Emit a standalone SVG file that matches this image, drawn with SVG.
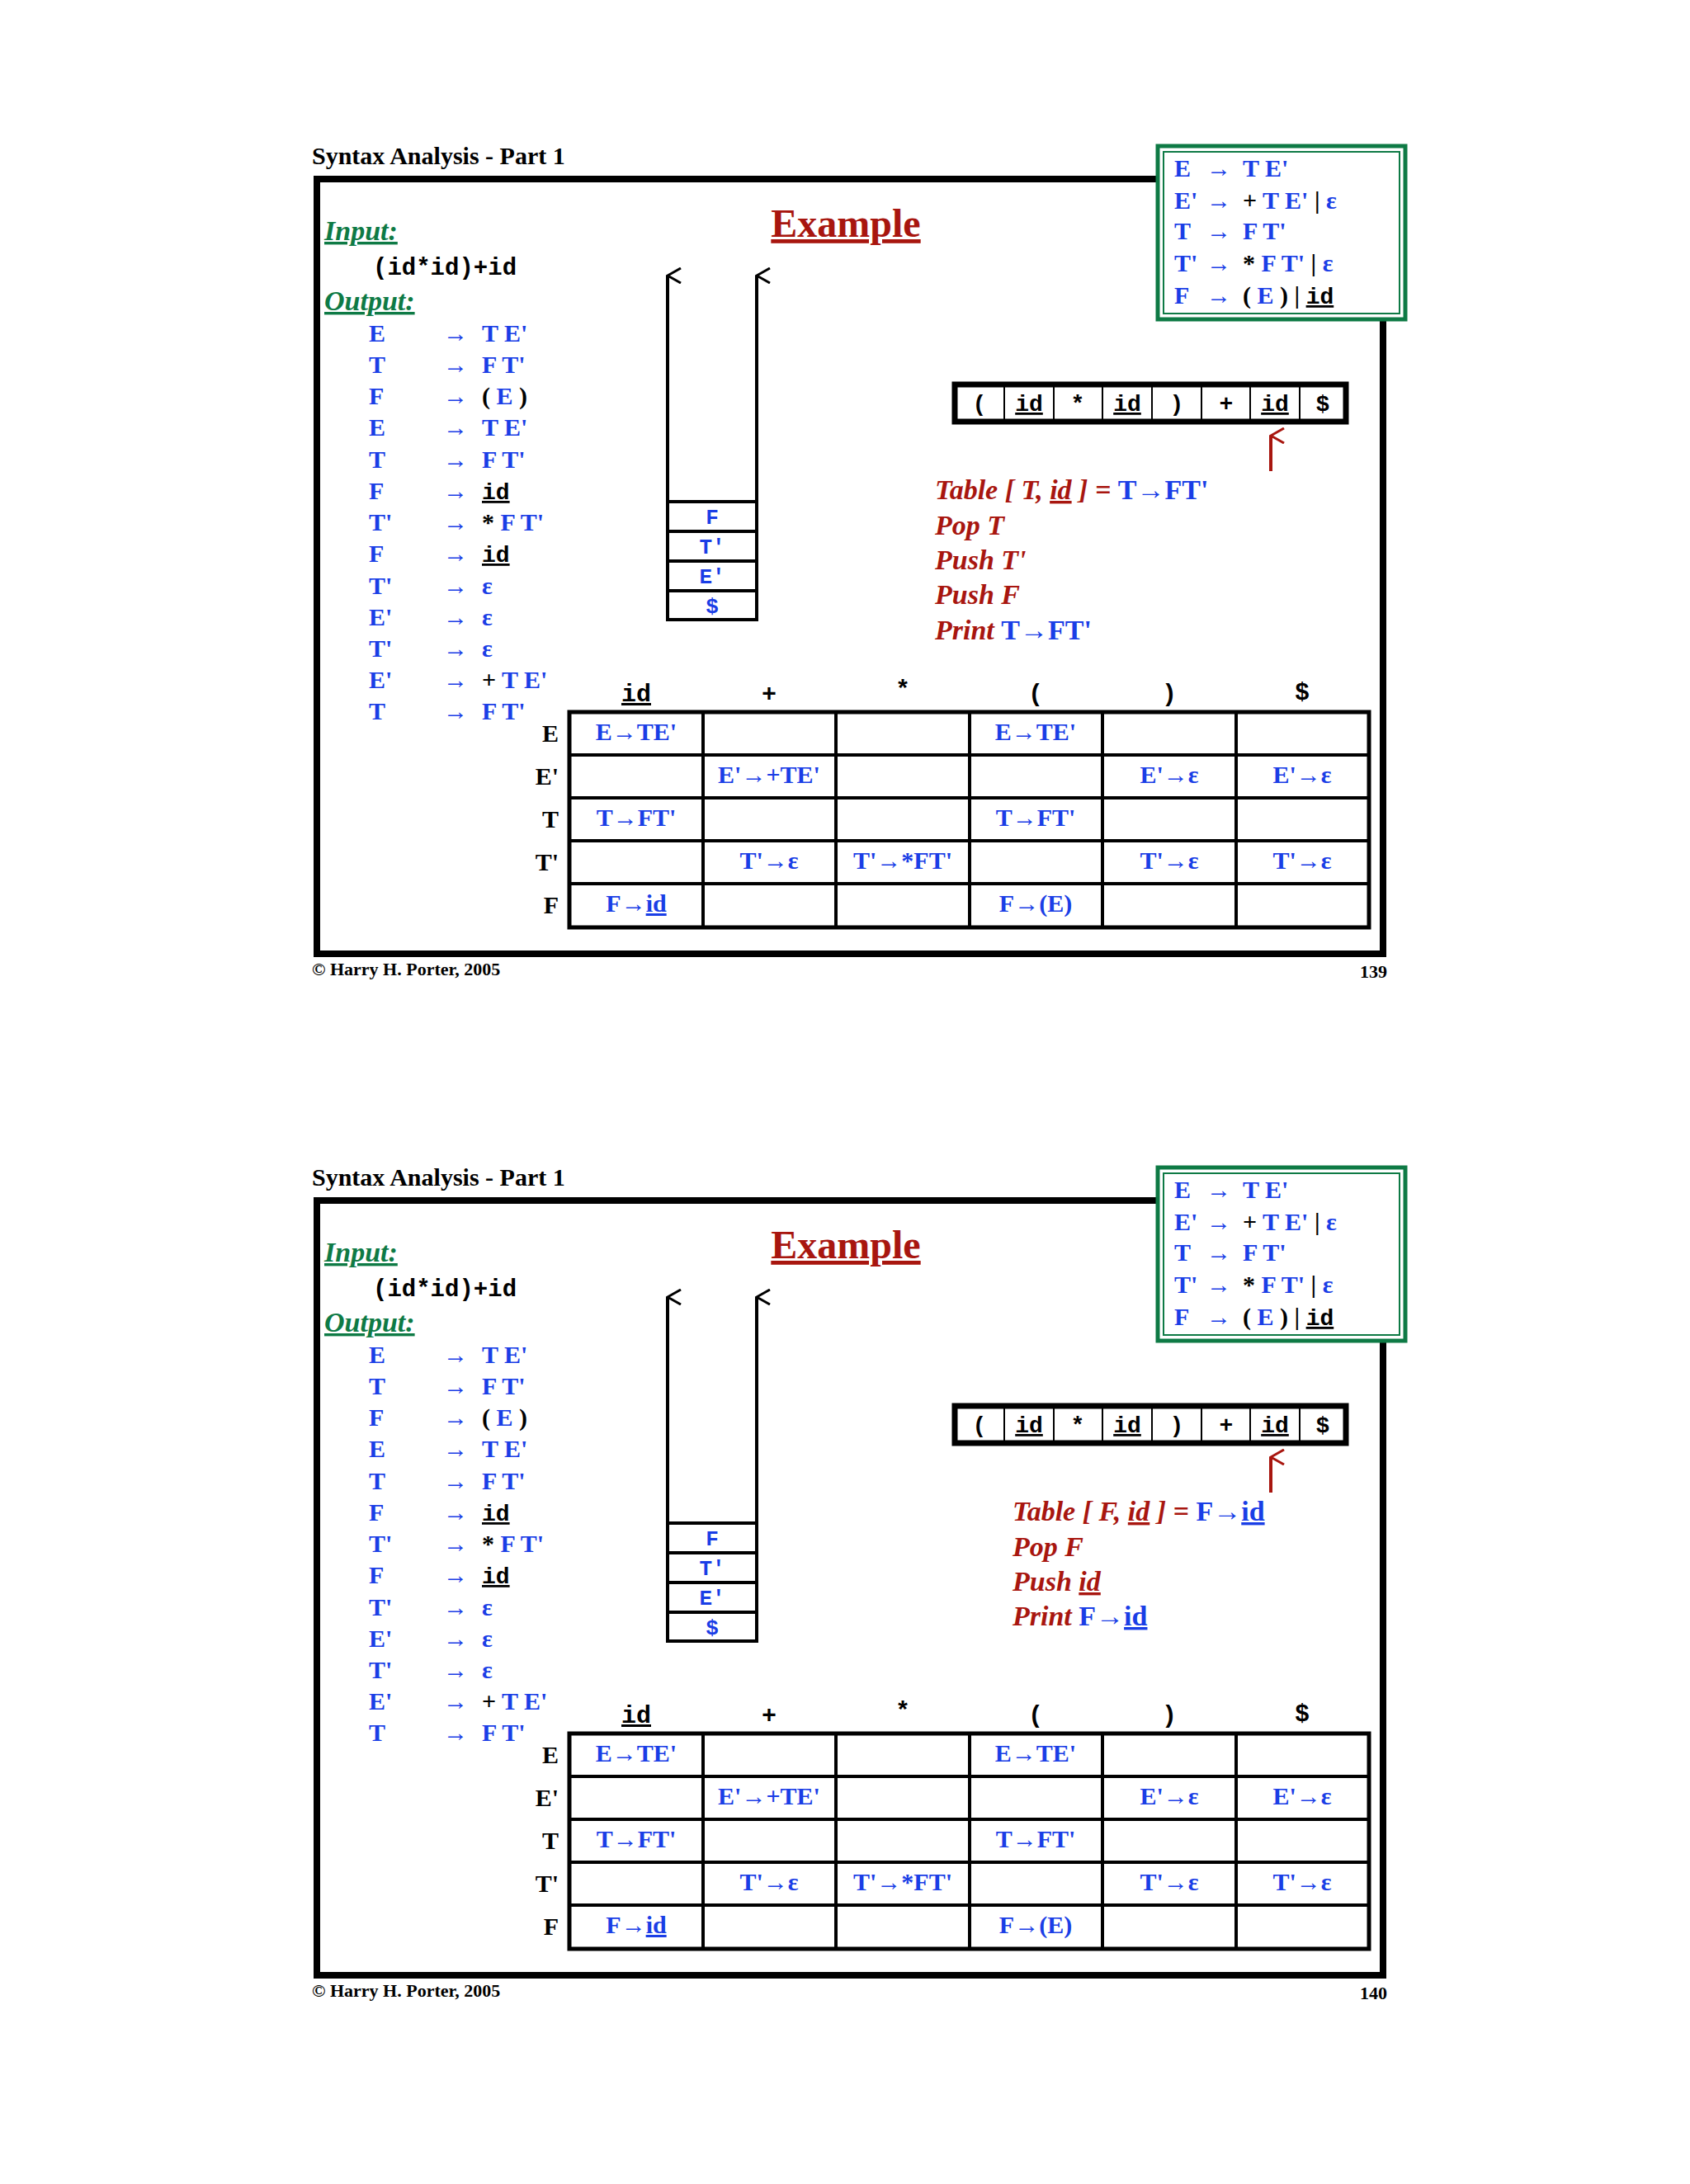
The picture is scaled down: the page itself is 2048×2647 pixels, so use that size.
<svg xmlns="http://www.w3.org/2000/svg" width="2048" height="2647" viewBox="0 0 2048 2647">
<defs>
<style>
.t{font-family:"Liberation Serif",serif;font-weight:bold}
.m{font-family:"Liberation Mono",monospace;font-weight:bold}
.b{fill:#1a3ee6}
.k{fill:#000}
.r{fill:#a8160f;font-style:italic}
.g{fill:#0e7a45;font-style:italic;text-decoration:underline}
.u{text-decoration:underline}
.ln{stroke:#000;fill:none}
</style>
<marker id="ah" viewBox="0 0 20 20" refX="10" refY="2" markerWidth="20" markerHeight="20" markerUnits="userSpaceOnUse" orient="auto-start-reverse">
<path d="M1,18 L10,2 L19,18" fill="none" stroke="#000" stroke-width="3"/>
</marker>
<marker id="ahr" viewBox="0 0 20 20" refX="10" refY="2" markerWidth="20" markerHeight="20" markerUnits="userSpaceOnUse" orient="auto-start-reverse">
<path d="M1,18 L10,2 L19,18" fill="none" stroke="#a8160f" stroke-width="3"/>
</marker>
<g id="base">
<text x="378" y="199" class="t k" font-size="30">Syntax Analysis - Part 1</text>
<rect x="384" y="217" width="1292" height="939" class="ln" stroke-width="8"/>
<g id="grammar">
<rect x="1403" y="177" width="300" height="210" fill="#fff" stroke="#0e7a45" stroke-width="5"/>
<rect x="1410" y="184" width="286" height="196" fill="none" stroke="#0e7a45" stroke-width="2"/>
<g class="t b" font-size="30">
<text x="1423" y="214">E<tspan x="1462">→</tspan><tspan x="1506">T E'</tspan></text>
<text x="1423" y="253">E'<tspan x="1462">→</tspan><tspan x="1506" class="k">+</tspan> T E' <tspan class="k">|</tspan> ε</text>
<text x="1423" y="290">T<tspan x="1462">→</tspan><tspan x="1506">F T'</tspan></text>
<text x="1423" y="329">T'<tspan x="1462">→</tspan><tspan x="1506" class="k">*</tspan> F T' <tspan class="k">|</tspan> ε</text>
<text x="1423" y="368">F<tspan x="1462">→</tspan><tspan x="1506" class="k">(</tspan> E <tspan class="k">)</tspan> <tspan class="k">|</tspan> <tspan class="m k u" font-size="28">id</tspan></text>
</g>
</g>
<text x="1025" y="287" text-anchor="middle" class="t" fill="#a8160f" font-size="48" text-decoration="underline">Example</text>
<text x="393" y="291" class="t g" font-size="34">Input:</text>
<text x="452" y="333" class="m k" font-size="29">(id*id)+id</text>
<text x="393" y="376" class="t g" font-size="34">Output:</text>
<g id="output" class="t b" font-size="30">
<g>
<text x="447" y="414">E</text><text x="447" y="452">T</text><text x="447" y="490">F</text><text x="447" y="528">E</text><text x="447" y="567">T</text><text x="447" y="605">F</text><text x="447" y="643">T'</text><text x="447" y="681">F</text><text x="447" y="720">T'</text><text x="447" y="758">E'</text><text x="447" y="796">T'</text><text x="447" y="834">E'</text><text x="447" y="872">T</text>
</g>
<g>
<text x="537" y="414">→</text><text x="537" y="452">→</text><text x="537" y="490">→</text><text x="537" y="528">→</text><text x="537" y="567">→</text><text x="537" y="605">→</text><text x="537" y="643">→</text><text x="537" y="681">→</text><text x="537" y="720">→</text><text x="537" y="758">→</text><text x="537" y="796">→</text><text x="537" y="834">→</text><text x="537" y="872">→</text>
</g>
<text x="584" y="414">T E'</text>
<text x="584" y="452">F T'</text>
<text x="584" y="490"><tspan class="k">(</tspan> E <tspan class="k">)</tspan></text>
<text x="584" y="528">T E'</text>
<text x="584" y="567">F T'</text>
<text x="584" y="605" class="m k u" font-size="28">id</text>
<text x="584" y="643"><tspan class="k">*</tspan> F T'</text>
<text x="584" y="681" class="m k u" font-size="28">id</text>
<text x="584" y="720">ε</text>
<text x="584" y="758">ε</text>
<text x="584" y="796">ε</text>
<text x="584" y="834"><tspan class="k">+</tspan> T E'</text>
<text x="584" y="872">F T'</text>
</g>
<g id="connectors">
<line x1="809" y1="608" x2="809" y2="334" class="ln" stroke-width="4" marker-end="url(#ah)"/>
<line x1="917" y1="608" x2="917" y2="334" class="ln" stroke-width="4" marker-end="url(#ah)"/>
</g>
<g id="stack">
<rect x="809" y="608" width="108" height="143" class="ln" stroke-width="4"/>
<line x1="809" y1="644" x2="917" y2="644" class="ln" stroke-width="4"/>
<line x1="809" y1="680" x2="917" y2="680" class="ln" stroke-width="4"/>
<line x1="809" y1="716" x2="917" y2="716" class="ln" stroke-width="4"/>
<g class="m b" font-size="26" text-anchor="middle">
<text x="863" y="635">F</text><text x="863" y="671">T'</text><text x="863" y="707">E'</text><text x="863" y="743">$</text>
</g>
</g>
<g id="tape">
<rect x="1157" y="466" width="474" height="45" fill="#fff" stroke="#000" stroke-width="7"/>
<g class="ln" stroke-width="2">
<line x1="1217" y1="466" x2="1217" y2="511"/><line x1="1277" y1="466" x2="1277" y2="511"/><line x1="1336" y1="466" x2="1336" y2="511"/><line x1="1396" y1="466" x2="1396" y2="511"/><line x1="1456" y1="466" x2="1456" y2="511"/><line x1="1515" y1="466" x2="1515" y2="511"/><line x1="1575" y1="466" x2="1575" y2="511"/>
</g>
<g class="m k" font-size="28" text-anchor="middle">
<text x="1187" y="498">(</text><text x="1247" y="498" class="u">id</text><text x="1306" y="498">*</text><text x="1366" y="498" class="u">id</text><text x="1426" y="498">)</text><text x="1486" y="498">+</text><text x="1545" y="498" class="u">id</text><text x="1603" y="498">$</text>
</g>
</g>
<line x1="1540" y1="571" x2="1540" y2="528" stroke="#a8160f" stroke-width="4" marker-end="url(#ahr)"/>
<g id="table">
<g class="m k" font-size="30" text-anchor="middle">
<text x="771" y="850" class="u">id</text><text x="932" y="850">+</text><text x="1094" y="845">*</text><text x="1255" y="850">(</text><text x="1417" y="850">)</text><text x="1578" y="848">$</text>
</g>
<rect x="690" y="863" width="969" height="261" class="ln" stroke-width="5"/>
<g class="ln" stroke-width="4">
<line x1="852" y1="863" x2="852" y2="1124"/><line x1="1013" y1="863" x2="1013" y2="1124"/><line x1="1175" y1="863" x2="1175" y2="1124"/><line x1="1336" y1="863" x2="1336" y2="1124"/><line x1="1498" y1="863" x2="1498" y2="1124"/>
<line x1="690" y1="915" x2="1659" y2="915"/><line x1="690" y1="967" x2="1659" y2="967"/><line x1="690" y1="1019" x2="1659" y2="1019"/><line x1="690" y1="1071" x2="1659" y2="1071"/>
</g>
<g class="t k" font-size="30" text-anchor="end">
<text x="677" y="899">E</text><text x="677" y="951">E'</text><text x="677" y="1003">T</text><text x="677" y="1055">T'</text><text x="677" y="1107">F</text>
</g>
<g class="t b" font-size="30" text-anchor="middle">
<text x="771" y="897">E→TE'</text><text x="1255" y="897">E→TE'</text>
<text x="932" y="949">E'→+TE'</text><text x="1417" y="949">E'→ε</text><text x="1578" y="949">E'→ε</text>
<text x="771" y="1001">T→FT'</text><text x="1255" y="1001">T→FT'</text>
<text x="932" y="1053">T'→ε</text><text x="1094" y="1053">T'→*FT'</text><text x="1417" y="1053">T'→ε</text><text x="1578" y="1053">T'→ε</text>
<text x="771" y="1105">F→<tspan class="u">id</tspan></text><text x="1255" y="1105">F→(E)</text>
</g>
</g>
<text x="378" y="1182" class="t k" font-size="22">© Harry H. Porter, 2005</text>
</g>
</defs>
<rect width="2048" height="2647" fill="#fff"/>
<g id="slide1">
<use href="#base"/>
<g class="t" font-size="34">
<text x="1133" y="605" class="r">Table [ T, <tspan class="u">id</tspan> ] = <tspan class="b" font-style="normal">T→FT'</tspan></text>
<text x="1133" y="648" class="r">Pop T</text>
<text x="1133" y="690" class="r">Push T'</text>
<text x="1133" y="732" class="r">Push F</text>
<text x="1133" y="775" class="r">Print <tspan class="b" font-style="normal">T→FT'</tspan></text>
</g>
<text x="1681" y="1185" text-anchor="end" class="t k" font-size="22">139</text>
</g>
<g id="slide2" transform="translate(0,1238)">
<use href="#base"/>
<g class="t" font-size="34">
<text x="1227" y="605" class="r">Table [ F, <tspan class="u">id</tspan> ] = <tspan class="b" font-style="normal">F→<tspan class="u">id</tspan></tspan></text>
<text x="1227" y="648" class="r">Pop F</text>
<text x="1227" y="690" class="r">Push <tspan class="u">id</tspan></text>
<text x="1227" y="732" class="r">Print <tspan class="b" font-style="normal">F→<tspan class="u">id</tspan></tspan></text>
</g>
<text x="1681" y="1185" text-anchor="end" class="t k" font-size="22">140</text>
</g>
</svg>
